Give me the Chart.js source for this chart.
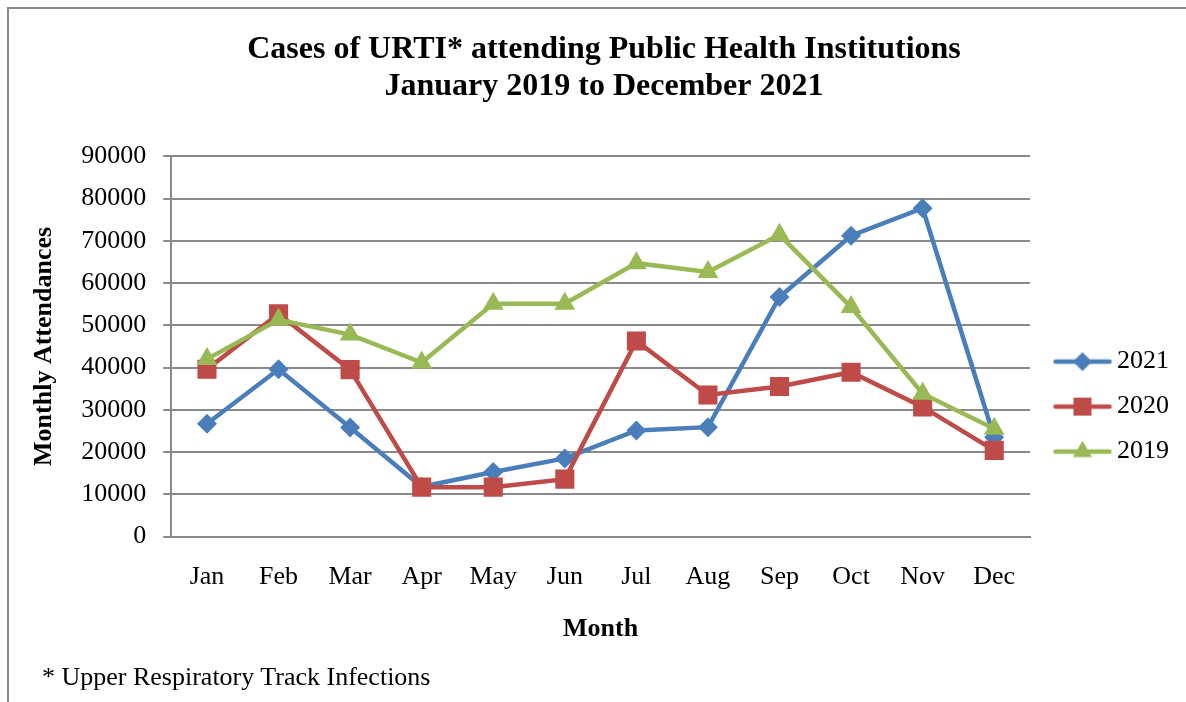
<!DOCTYPE html>
<html>
<head>
<meta charset="utf-8">
<script src="https://cdn.jsdelivr.net/npm/chart.js@4.4.0/dist/chart.umd.min.js"></script>
<style>
  html, body { margin: 0; padding: 0; background: #fff; }
  #wrap { position: relative; width: 1186px; height: 702px; overflow: hidden; }
  #frame { position: absolute; left: 7px; top: 7px; width: 1200px; height: 720px; border: 2px solid #888; box-sizing: border-box; }
  canvas { position: absolute; left: 0; top: 0; }
  #note { position: absolute; left: 42px; top: 662px; font: 26px "Liberation Serif", "Times New Roman", serif; color: #000; white-space: nowrap; }
</style>
</head>
<body>
<div id="wrap">
  <div id="frame"></div>
  <canvas id="c" width="1186" height="702"></canvas>
  <div id="note">* Upper Respiratory Track Infections</div>
</div>
<script>
const months = ['Jan', 'Feb', 'Mar', 'Apr', 'May', 'Jun', 'Jul', 'Aug', 'Sep', 'Oct', 'Nov', 'Dec'];
const seriesNames = ['2021', '2020', '2019'];
const values2021 = [26700, 39600, 25800, 11800, 15300, 18500, 25100, 25900, 56700, 71200, 77700, 23500];
const values2020 = [39600, 52700, 39500, 11700, 11700, 13600, 46300, 33500, 35500, 38900, 30700, 20400];
const values2019 = [42000, 51300, 47800, 41200, 55100, 55100, 64700, 62600, 71400, 54300, 33800, 25500];
const yTickValues = [0, 10000, 20000, 30000, 40000, 50000, 60000, 70000, 80000, 90000];

const titleLines = ['Cases of URTI* attending Public Health Institutions', 'January 2019 to December 2021'];
const xTitle = 'Month';
const yTitle = 'Monthly Attendances';

const colors = ['#4A7EBB', '#BE4B48', '#98B954'];
const styles = ['rectRot', 'rect', 'triangle'];
const radii = [10, 13.5, 12];

const FONT = '"Liberation Serif", "Times New Roman", serif';

// legend icons: line with marker
function makeIcon(color, style) {
  const c = document.createElement('canvas');
  c.width = 72; c.height = 30;
  const g = c.getContext('2d');
  g.strokeStyle = color; g.fillStyle = color;
  g.lineWidth = 4.5; g.lineCap = 'round';
  const cy = 15, x0 = 15, x1 = 69, cx = (x0 + x1) / 2;
  g.beginPath(); g.moveTo(x0, cy); g.lineTo(x1, cy); g.stroke();
  g.beginPath();
  if (style === 'rectRot') {
    const r = 9.5;
    g.moveTo(cx, cy - r); g.lineTo(cx + r, cy); g.lineTo(cx, cy + r); g.lineTo(cx - r, cy); g.closePath();
  } else if (style === 'rect') {
    g.rect(cx - 9, cy - 9, 18, 18);
  } else {
    const r = 11;
    g.moveTo(cx, cy - r);
    g.lineTo(cx + r * Math.sin(2 * Math.PI / 3), cy - r * Math.cos(2 * Math.PI / 3));
    g.lineTo(cx + r * Math.sin(4 * Math.PI / 3), cy - r * Math.cos(4 * Math.PI / 3));
    g.closePath();
  }
  g.fill();
  return c;
}
const icons = colors.map((col, i) => makeIcon(col, styles[i]));

const allValues = [values2021, values2020, values2019];
const datasets = seriesNames.map((name, i) => ({
  label: name,
  data: allValues[i],
  borderColor: colors[i],
  backgroundColor: colors[i],
  borderWidth: 4.5,
  pointStyle: styles[i],
  pointRadius: radii[i],
  pointHoverRadius: radii[i],
  pointBackgroundColor: colors[i],
  pointBorderColor: colors[i],
  pointBorderWidth: 0,
  tension: 0,
  order: 2 - i
}));

new Chart(document.getElementById('c'), {
  type: 'line',
  data: { labels: months, datasets: datasets },
  options: {
    responsive: false,
    animation: false,
    devicePixelRatio: 1,
    layout: { padding: { left: 29, right: 7, top: 0, bottom: 57 } },
    plugins: {
      tooltip: { enabled: false },
      title: {
        display: true,
        text: titleLines,
        color: '#000',
        font: { family: FONT, size: 32, weight: 'bold', lineHeight: 1.16 },
        padding: { top: 31, bottom: 51 }
      },
      legend: {
        position: 'right',
        align: 'center',
        title: { display: true, text: ' ', font: { size: 26, family: FONT }, padding: { top: 68, bottom: 69 } },
        labels: {
          color: '#000',
          font: { family: FONT, size: 26 },
          usePointStyle: true,
          pointStyleWidth: 55,
          padding: 19,
          sort: (a, b) => a.datasetIndex - b.datasetIndex,
          generateLabels: (chart) => chart.data.datasets.map((ds, i) => ({
            text: ds.label,
            datasetIndex: i,
            pointStyle: icons[i],
            fillStyle: ds.borderColor,
            strokeStyle: ds.borderColor,
            fontColor: '#000',
            lineWidth: 0,
            hidden: false
          }))
        }
      }
    },
    scales: {
      x: {
        offset: true,
        grid: { display: false, drawTicks: false, offset: true },
        border: { display: true, color: '#8a8a8a', width: 2 },
        ticks: { color: '#000', font: { family: FONT, size: 26 }, padding: 25, maxRotation: 0 },
        title: { display: true, text: xTitle, color: '#000', font: { family: FONT, size: 26, weight: 'bold' }, padding: { top: -4, bottom: 0 } }
      },
      y: {
        min: 0, max: 90000,
        afterBuildTicks: (scale) => { scale.ticks = yTickValues.map(v => ({ value: v })); },
        grid: { color: '#8a8a8a', lineWidth: 2, drawTicks: true, tickLength: 8 },
        border: { display: true, color: '#8a8a8a', width: 2 },
        ticks: { color: '#000', font: { family: FONT, size: 26 }, padding: 17, callback: (v) => String(v) },
        title: { display: true, text: yTitle, color: '#000', font: { family: FONT, size: 26, weight: 'bold' }, padding: { top: 0, bottom: 4 } }
      }
    }
  }
});
</script>
</body>
</html>
